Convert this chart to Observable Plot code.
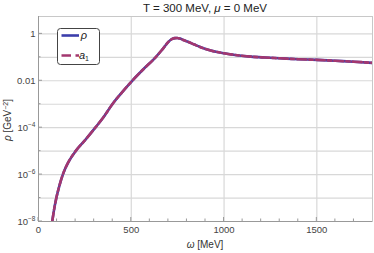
<!DOCTYPE html>
<html><head><meta charset="utf-8">
<script src="https://cdn.jsdelivr.net/npm/d3@7"></script>
<script src="https://cdn.jsdelivr.net/npm/@observablehq/plot@0.6"></script>
<style>body{margin:0;background:#fff}#chart{width:374px;height:253px}</style>
</head><body><div id="chart"></div>
<script>
const omega = [74, 84, 96, 112, 131, 162, 200, 255, 306, 350, 398, 450, 505, 565, 631, 670, 703, 721, 735, 748, 762, 780, 802, 840, 874, 928, 1000, 1070, 1144, 1220, 1300, 1400, 1500, 1600, 1700, 1800];
const rho = [1.0e-8, 3.2e-8, 1.0e-7, 3.2e-7, 1.0e-6, 3.5e-6, 1.0e-5, 3.2e-5, 1.0e-4, 2.8e-4, 1.0e-3, 3.2e-3, 1.0e-2, 3.1e-2, 0.10, 0.23, 0.48, 0.61, 0.66, 0.67, 0.63, 0.55, 0.47, 0.35, 0.27, 0.195, 0.148, 0.123, 0.107, 0.098, 0.091, 0.083, 0.078, 0.071, 0.065, 0.058];
const a1 = [1.0e-8, 3.2e-8, 1.0e-7, 3.2e-7, 1.0e-6, 3.5e-6, 1.0e-5, 3.2e-5, 1.0e-4, 2.8e-4, 1.0e-3, 3.2e-3, 1.0e-2, 3.1e-2, 0.10, 0.23, 0.48, 0.61, 0.66, 0.67, 0.63, 0.55, 0.47, 0.35, 0.27, 0.195, 0.148, 0.123, 0.107, 0.098, 0.091, 0.083, 0.078, 0.071, 0.065, 0.058];
const xTickValues = [0, 500, 1000, 1500];
const xMinorTicks = [100, 200, 300, 400, 600, 700, 800, 900, 1100, 1200, 1300, 1400, 1600, 1700];
const yTickValues = [1, 1e-2, 1e-4, 1e-6, 1e-8];
const yTickBase = ["1", "0.01", "10", "10", "10"];
const yTickExp = ["", "", "−4", "−6", "−8"];
const yMinorTicks = [1e-1, 1e-3, 1e-5, 1e-7];
const yGridValues = [1e-8, 1e-7, 1e-6, 1e-5, 1e-4, 1e-3, 1e-2, 1e-1, 1];
const colors = {rho: "#3c3eab", a1: "#a3376f"};

const rhoRows = omega.map((w, i) => ({w, v: rho[i]}));
const a1Rows = omega.map((w, i) => ({w, v: a1[i]}));

const plot = Plot.plot({
  width: 374, height: 253,
  marginLeft: 38, marginRight: 2, marginTop: 16, marginBottom: 32,
  style: {fontFamily: "'Liberation Sans', Arial, sans-serif", fontSize: "9.5px", color: "#444", background: "#fff"},
  x: {domain: [0, 1800]},
  y: {type: "log", domain: [1e-8, 5.5]},
  marks: [
    Plot.gridX(xTickValues.slice(1), {stroke: "#d8d8d8", strokeOpacity: 1, strokeWidth: 1.2}),
    Plot.gridY(yGridValues, {stroke: "#d8d8d8", strokeOpacity: 1, strokeWidth: 1.2}),
    Plot.frame({stroke: "#c8c8c8"}),
    Plot.ruleX([0], {stroke: "#999"}),
    Plot.ruleY([1e-8], {stroke: "#999"}),
    Plot.axisX(xTickValues, {tickSize: 0, tickPadding: 5, tickFormat: d => String(d), label: null}),
    Plot.axisY(yTickValues, {tickSize: 0, tickPadding: 3, tickFormat: d => yTickBase[yTickValues.indexOf(d)], label: null}),
    Plot.line(rhoRows, {x: "w", y: "v", stroke: colors.rho, strokeWidth: 2.6, curve: "monotone-x", clip: true}),
    Plot.line(a1Rows, {x: "w", y: "v", stroke: colors.a1, strokeWidth: 2.6, curve: "monotone-x", strokeDasharray: "9,3,3.5,3", clip: true})
  ]
});
document.getElementById("chart").appendChild(plot);

const svg = d3.select(plot);
// superscript exponents on y tick labels
svg.selectAll('g[aria-label="y-axis tick label"] text').each(function(_, i) {
  const t = d3.select(this);
  const e = yTickExp[i];
  if (e) {
    const base = t.text();
    t.text(null);
    t.append("tspan").text(base);
    t.append("tspan").attr("font-size", 6.5).attr("dy", "-0.5em").text(e);
  }
});

const sx = plot.scale("x"), sy = plot.scale("y");
const y0 = sy.apply(1e-8), x0 = sx.apply(0);
const tg = svg.append("g").attr("stroke", "#999").attr("stroke-width", 1);
xTickValues.forEach(v => tg.append("line").attr("x1", sx.apply(v)).attr("x2", sx.apply(v)).attr("y1", y0).attr("y2", y0 - 4));
xMinorTicks.forEach(v => tg.append("line").attr("x1", sx.apply(v)).attr("x2", sx.apply(v)).attr("y1", y0).attr("y2", y0 - 2.5));
yTickValues.forEach(v => tg.append("line").attr("y1", sy.apply(v)).attr("y2", sy.apply(v)).attr("x1", x0).attr("x2", x0 + 4));
yMinorTicks.forEach(v => tg.append("line").attr("y1", sy.apply(v)).attr("y2", sy.apply(v)).attr("x1", x0).attr("x2", x0 + 2.5));

// title
const title = svg.append("text").attr("x", 205).attr("y", 11.5).attr("text-anchor", "middle")
  .attr("font-size", 11.5).attr("fill", "#222");
title.append("tspan").text("T = 300 MeV, ");
title.append("tspan").attr("font-style", "italic").text("μ");
title.append("tspan").text(" = 0 MeV");

// axis labels
const xl = svg.append("text").attr("x", 205).attr("y", 248).attr("text-anchor", "middle").attr("font-size", 10).attr("fill", "#333");
xl.append("tspan").attr("font-style", "italic").text("ω");
xl.append("tspan").text(" [MeV]");
const yl = svg.append("text").attr("transform", "translate(11,120) rotate(-90)").attr("text-anchor", "middle").attr("font-size", 10).attr("fill", "#333");
yl.append("tspan").attr("font-style", "italic").text("ρ");
yl.append("tspan").text(" [GeV");
yl.append("tspan").attr("font-size", 7).attr("dy", "-0.5em").text("−2");
yl.append("tspan").attr("dy", "0.35em").text("]");

// legend
const lg = svg.append("g");
lg.append("rect").attr("x", 57.5).attr("y", 28.5).attr("width", 42).attr("height", 36).attr("rx", 3)
  .attr("fill", "#fff").attr("stroke", "#444").attr("stroke-width", 1);
lg.append("line").attr("x1", 61.5).attr("x2", 79).attr("y1", 35.5).attr("y2", 35.5).attr("stroke", colors.rho).attr("stroke-width", 2.6);
lg.append("line").attr("x1", 61.5).attr("x2", 79).attr("y1", 55.5).attr("y2", 55.5).attr("stroke", colors.a1).attr("stroke-width", 2.6).attr("stroke-dasharray", "9.5,4.5,3.5,4");
lg.append("text").attr("x", 84).attr("y", 38.5).attr("font-size", 11).attr("font-style", "italic").attr("fill", "#222").text("ρ");
const a1t = lg.append("text").attr("x", 84).attr("y", 58.5).attr("font-size", 11).attr("fill", "#222");
a1t.append("tspan").attr("font-style", "italic").text("a");
a1t.append("tspan").attr("font-size", 7).attr("dy", 2).text("1");
</script>
</body></html>
